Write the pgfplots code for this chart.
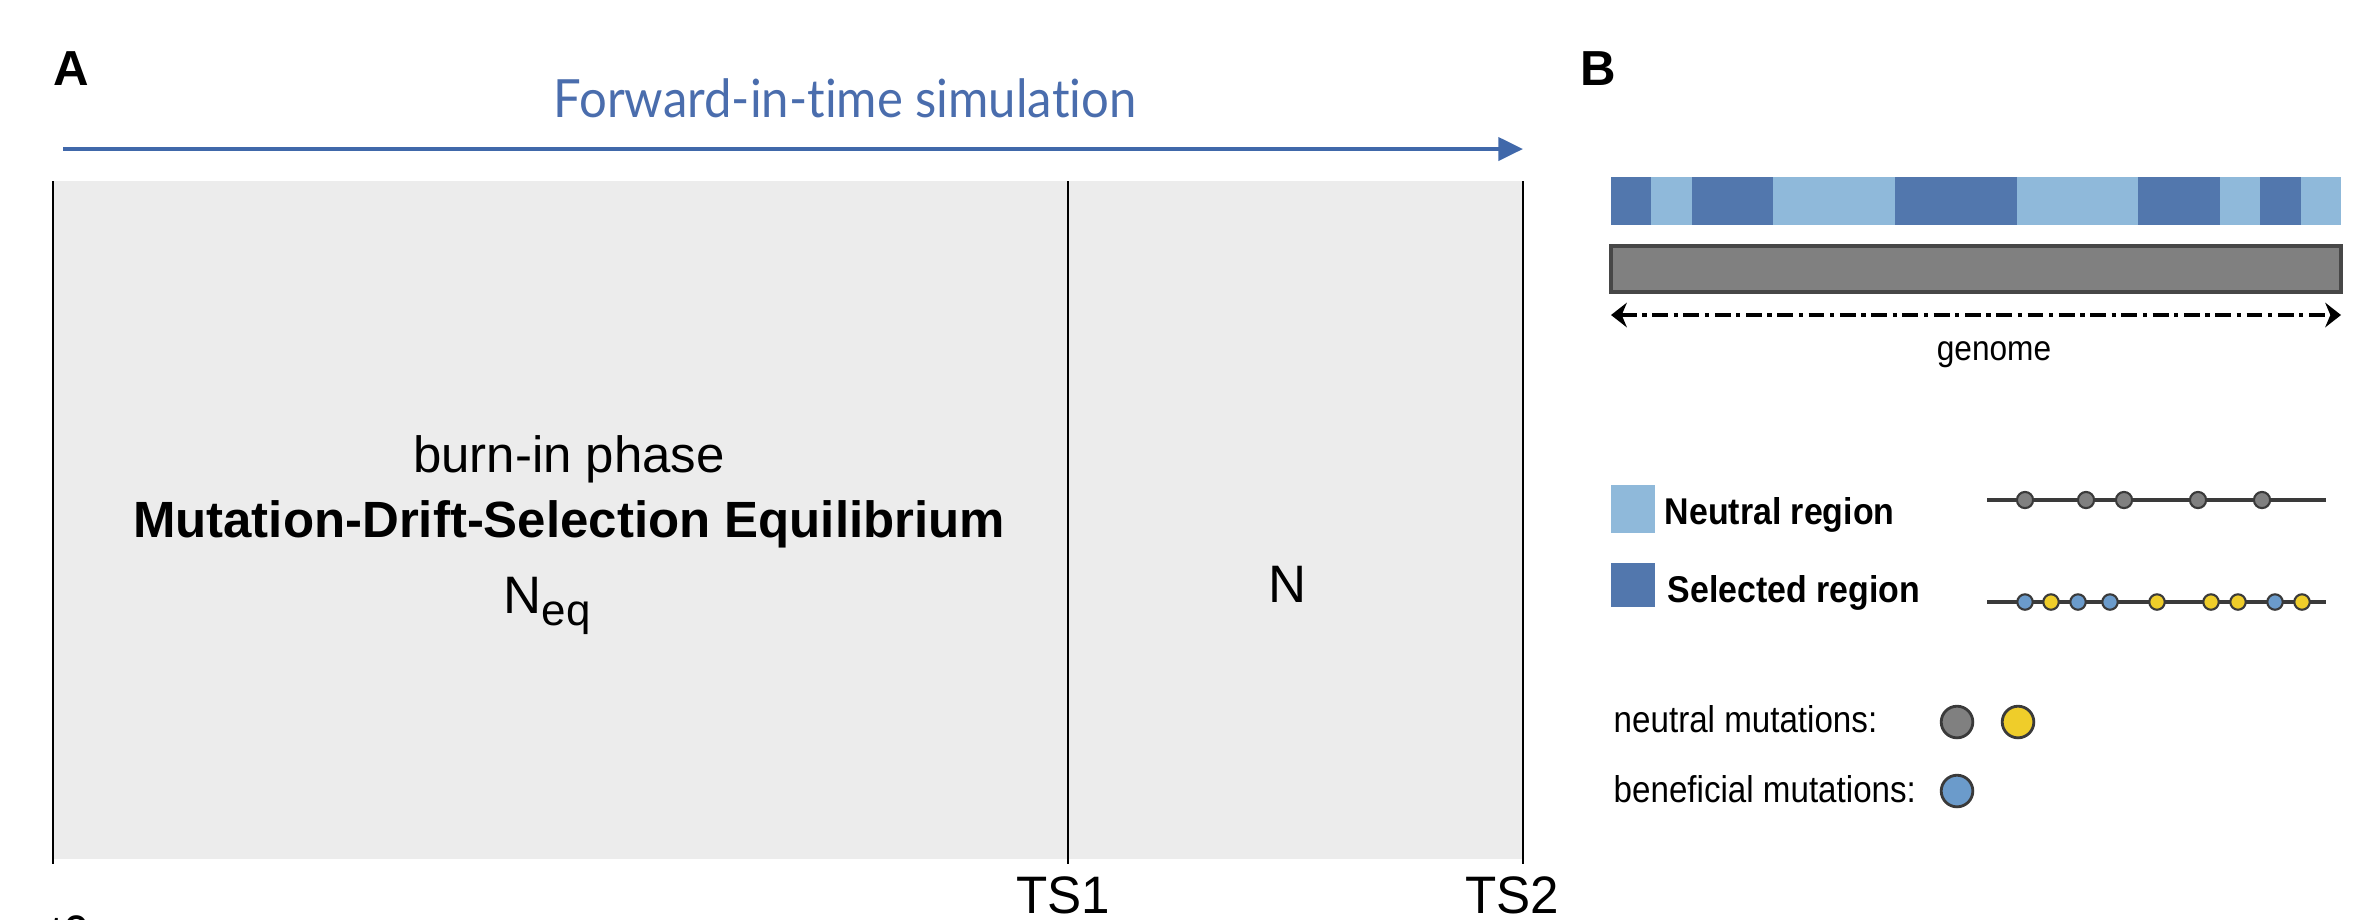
\documentclass[border=0pt]{standalone}
\usepackage{fontspec}
\setmainfont{Liberation Sans}
\newfontfamily\titlefont{Lato}[Ligatures=NoCommon]
\usepackage{graphicx}
\usepackage{pgfplots}
\pgfplotsset{compat=1.18}
\usetikzlibrary{arrows.meta}
\definecolor{boxgray}{HTML}{ECECEC}
\definecolor{darkblue}{HTML}{5277AD}
\definecolor{lightblue}{HTML}{8FB9DA}
\definecolor{arrowblue}{HTML}{4068AA}
\definecolor{titleblue}{HTML}{4A6DAD}
\definecolor{chromgray}{HTML}{808080}
\definecolor{mutyellow}{HTML}{EFCD2A}
\definecolor{mutblue}{HTML}{6B9BCB}
\definecolor{linegray}{HTML}{3A3A3A}
\begin{document}
\begin{tikzpicture}
\begin{axis}[width=23.53cm,height=9.19cm,scale only axis,
  xmin=0,xmax=2353,ymin=0,ymax=919,y dir=reverse,
  axis lines=none,clip=false]
% ---------------- Panel A ----------------
\addplot[fill=boxgray,draw=none] coordinates {(53,181) (1523,181) (1523,859) (53,859)} --cycle;
\addplot[black,line width=0.8pt] coordinates {(53,181) (53,864)};
\addplot[black,line width=0.8pt] coordinates {(1068,181) (1068,864)};
\addplot[black,line width=0.8pt] coordinates {(1523,181) (1523,864)};
\addplot[arrowblue,line width=1.2pt,-{Triangle[length=7pt,width=6.5pt]}] coordinates {(63,149) (1523,149)};
\node[font=\titlefont\fontsize{15}{18}\selectfont,text=titleblue,anchor=base] at (axis cs:845,117) {\scalebox{0.93}[1]{Forward-in-time simulation}};
\node[font=\bfseries\fontsize{14}{16}\selectfont,anchor=base west,inner sep=0pt] at (axis cs:53,85) {A};
\node[font=\bfseries\fontsize{14}{16}\selectfont,anchor=base west,inner sep=0pt] at (axis cs:1580,85) {B};
\node[font=\fontsize{14.5}{17}\selectfont,anchor=base] at (axis cs:569,472) {burn-in phase};
\node[font=\bfseries\fontsize{14.5}{17}\selectfont,anchor=base] at (axis cs:569,537) {Mutation-Drift-Selection Equilibrium};
\node[font=\fontsize{15}{17}\selectfont,anchor=base] at (axis cs:547,613) {N\raisebox{-0.45ex}{\fontsize{12.5}{14}\selectfont eq}};
\node[font=\fontsize{15}{17}\selectfont,anchor=base] at (axis cs:1288,602) {N};
\node[font=\fontsize{15}{17}\selectfont,anchor=base] at (axis cs:1063,913) {\scalebox{0.97}[1]{TS1}};
\node[font=\fontsize{15}{17}\selectfont,anchor=base] at (axis cs:1512,913) {\scalebox{0.97}[1]{TS2}};
\node[font=\fontsize{15}{17}\selectfont,anchor=base west,inner sep=0pt] at (axis cs:50,952) {\scalebox{0.9}[1]{t0}};
% ---------------- Panel B ----------------
% genome regions (light = neutral, dark = selected)
\addplot[fill=lightblue,draw=none] coordinates {(1610.6,177) (2341.4,177) (2341.4,225) (1610.6,225)} --cycle;
\addplot[fill=darkblue,draw=none] coordinates {(1610.6,177) (1651.2,177) (1651.2,225) (1610.6,225)} --cycle;
\addplot[fill=darkblue,draw=none] coordinates {(1691.8,177) (1773.0,177) (1773.0,225) (1691.8,225)} --cycle;
\addplot[fill=darkblue,draw=none] coordinates {(1894.8,177) (2016.6,177) (2016.6,225) (1894.8,225)} --cycle;
\addplot[fill=darkblue,draw=none] coordinates {(2138.4,177) (2219.6,177) (2219.6,225) (2138.4,225)} --cycle;
\addplot[fill=darkblue,draw=none] coordinates {(2260.2,177) (2300.8,177) (2300.8,225) (2260.2,225)} --cycle;
% chromosome
\addplot[fill=chromgray,draw=black!72,line width=1pt] coordinates {(1611,246) (2341,246) (2341,292) (1611,292)} --cycle;
% genome arrow
\addplot[black,line width=0.9pt,dash pattern=on 4.5pt off 1.6pt on 1.2pt off 1.6pt,
  {Stealth[length=4.5pt,width=7pt]}-{Stealth[length=4.5pt,width=7pt]}] coordinates {(1611,315) (2341,315)};
\node[font=\fontsize{10}{12}\selectfont,anchor=base] at (axis cs:1994,360) {\scalebox{0.9}[1]{genome}};
% legend squares
\addplot[fill=lightblue,draw=none] coordinates {(1611,485) (1655,485) (1655,533) (1611,533)} --cycle;
\addplot[fill=darkblue,draw=none] coordinates {(1611,563) (1655,563) (1655,607) (1611,607)} --cycle;
\node[font=\bfseries\fontsize{10.6}{12}\selectfont,anchor=base west,inner sep=0pt] at (axis cs:1664,524) {\scalebox{0.91}[1]{Neutral region}};
\node[font=\bfseries\fontsize{10.6}{12}\selectfont,anchor=base west,inner sep=0pt] at (axis cs:1667,602) {\scalebox{0.91}[1]{Selected region}};
% neutral region mutations
\addplot[linegray,line width=1pt] coordinates {(1987,500) (2326,500)};
\addplot[only marks,mark=*,mark size=2.3pt,mark options={fill=chromgray,draw=linegray,line width=0.6pt}] coordinates {(2025,500) (2086,500) (2124,500) (2198,500) (2262,500)};
% selected region mutations
\addplot[linegray,line width=1pt] coordinates {(1987,602) (2326,602)};
\addplot[only marks,mark=*,mark size=2.2pt,mark options={fill=mutblue,draw=linegray,line width=0.6pt}] coordinates {(2025,602) (2078,602) (2110,602) (2275,602)};
\addplot[only marks,mark=*,mark size=2.2pt,mark options={fill=mutyellow,draw=linegray,line width=0.6pt}] coordinates {(2051,602) (2157,602) (2211,602) (2238,602) (2302,602)};
% mutation legend
\node[font=\fontsize{10.6}{12}\selectfont,anchor=base west,inner sep=0pt] at (axis cs:1613,732) {\scalebox{0.89}[1]{neutral mutations:}};
\node[font=\fontsize{10.6}{12}\selectfont,anchor=base west,inner sep=0pt] at (axis cs:1613,802) {\scalebox{0.89}[1]{beneficial mutations:}};
\addplot[only marks,mark=*,mark size=4.5pt,mark options={fill=chromgray,draw=linegray,line width=0.8pt}] coordinates {(1957,722)};
\addplot[only marks,mark=*,mark size=4.5pt,mark options={fill=mutyellow,draw=linegray,line width=0.8pt}] coordinates {(2018,722)};
\addplot[only marks,mark=*,mark size=4.5pt,mark options={fill=mutblue,draw=linegray,line width=0.8pt}] coordinates {(1957,791)};
\end{axis}
\pgfresetboundingbox
\path (current axis.south west) rectangle (current axis.north east);
\end{tikzpicture}
\end{document}
